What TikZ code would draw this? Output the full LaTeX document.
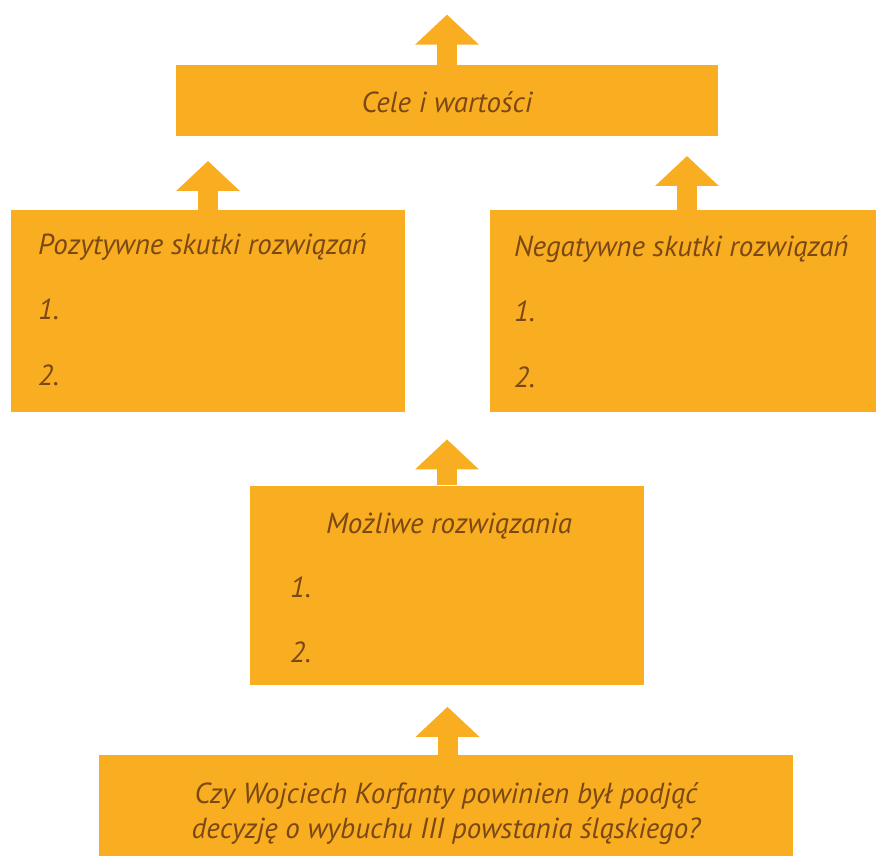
\documentclass[tikz,border=0pt]{standalone}
\usepackage{fontspec}
\setsansfont{PT Sans}
\usepackage{tikz}
\usetikzlibrary{arrows.meta,positioning}
\definecolor{pomarancz}{RGB}{249,173,32}
\definecolor{braz}{RGB}{122,72,20}
\tikzset{
    %Define standard font
    font=\sffamily\itshape\fontsize{29}{35}\selectfont,
    %Define style for boxes
    blok/.style={
           rectangle,
           fill=pomarancz,
           inner sep=0pt},
    % Define style for texts inside boxes
    napis/.style={
           text=braz,
           inner sep=0pt,
           align=center,
           anchor=base west},
    % Define arrow style
    strzala/.style={
           draw=pomarancz,
           line width=20pt,
           -{Triangle[width=62pt,length=30pt]}}
}

\begin{document}
\begin{tikzpicture}[node distance=70pt]
  \useasboundingbox (0,0) rectangle (876pt,-856pt);
  \node[blok, minimum width=694pt, minimum height=101pt] (pytanie) at (446pt,-805.5pt) {};
  \node[blok, minimum width=394pt, minimum height=199pt] (rozw) [above=of pytanie, xshift=1pt] {};
  \node[blok, minimum width=394pt, minimum height=202pt] (poz) [above=73pt of rozw, xshift=-239pt] {};
  \node[blok, minimum width=386pt, minimum height=202pt] (neg) [above=73pt of rozw, xshift=236pt] {};
  \node[blok, minimum width=542pt, minimum height=71pt] (cele) [above=74pt of poz, xshift=239pt] {};
  % texts in boxes
  \node[napis, anchor=center] (pytanieT) at ([yshift=-8pt]pytanie.center)
    {Czy Wojciech Korfanty powinien był podjąć\\decyzję o wybuchu III powstania śląskiego?};
  \node[napis, anchor=center] (celeT) at ([yshift=-2pt]cele.center) {Cele i warto\'sci};
  \node[napis, anchor=base] (rozwT) at ([xshift=2pt,yshift=-48pt]rozw.north) {Możliwe rozwiązania};
  \node[napis] (rozw1) at ([xshift=40pt,yshift=-112pt]rozw.north west) {1.};
  \node[napis] (rozw2) at ([xshift=40pt,yshift=-177pt]rozw.north west) {2.};
  \node[napis] (pozT) at ([xshift=27pt,yshift=-44pt]poz.north west) {Pozytywne skutki rozwiązań};
  \node[napis] (poz1) at ([xshift=27pt,yshift=-109pt]poz.north west) {1.};
  \node[napis] (poz2) at ([xshift=27pt,yshift=-175pt]poz.north west) {2.};
  \node[napis] (negT) at ([xshift=24pt,yshift=-46pt]neg.north west) {Negatywne skutki rozwiązań};
  \node[napis] (neg1) at ([xshift=24pt,yshift=-111pt]neg.north west) {1.};
  \node[napis] (neg2) at ([xshift=24pt,yshift=-177pt]neg.north west) {2.};
  % arrows
  \coordinate[above=48pt of pytanie.north, xshift=1.5pt] (pytanieG);
  \coordinate[above=46pt of rozw.north] (rozwG);
  \coordinate[above=49pt of poz.north] (pozG);
  \coordinate[above=54pt of neg.north, xshift=4pt] (negG);
  \coordinate[above=50pt of cele.north] (celeG);
  \draw[strzala] (pytanie.north -| pytanieG) -- (pytanieG);
  \draw[strzala] (rozw.north) -- (rozwG);
  \draw[strzala] (poz.north) -- (pozG);
  \draw[strzala] (neg.north -| negG) -- (negG);
  \draw[strzala] (cele.north) -- (celeG);
\end{tikzpicture}
\end{document}
